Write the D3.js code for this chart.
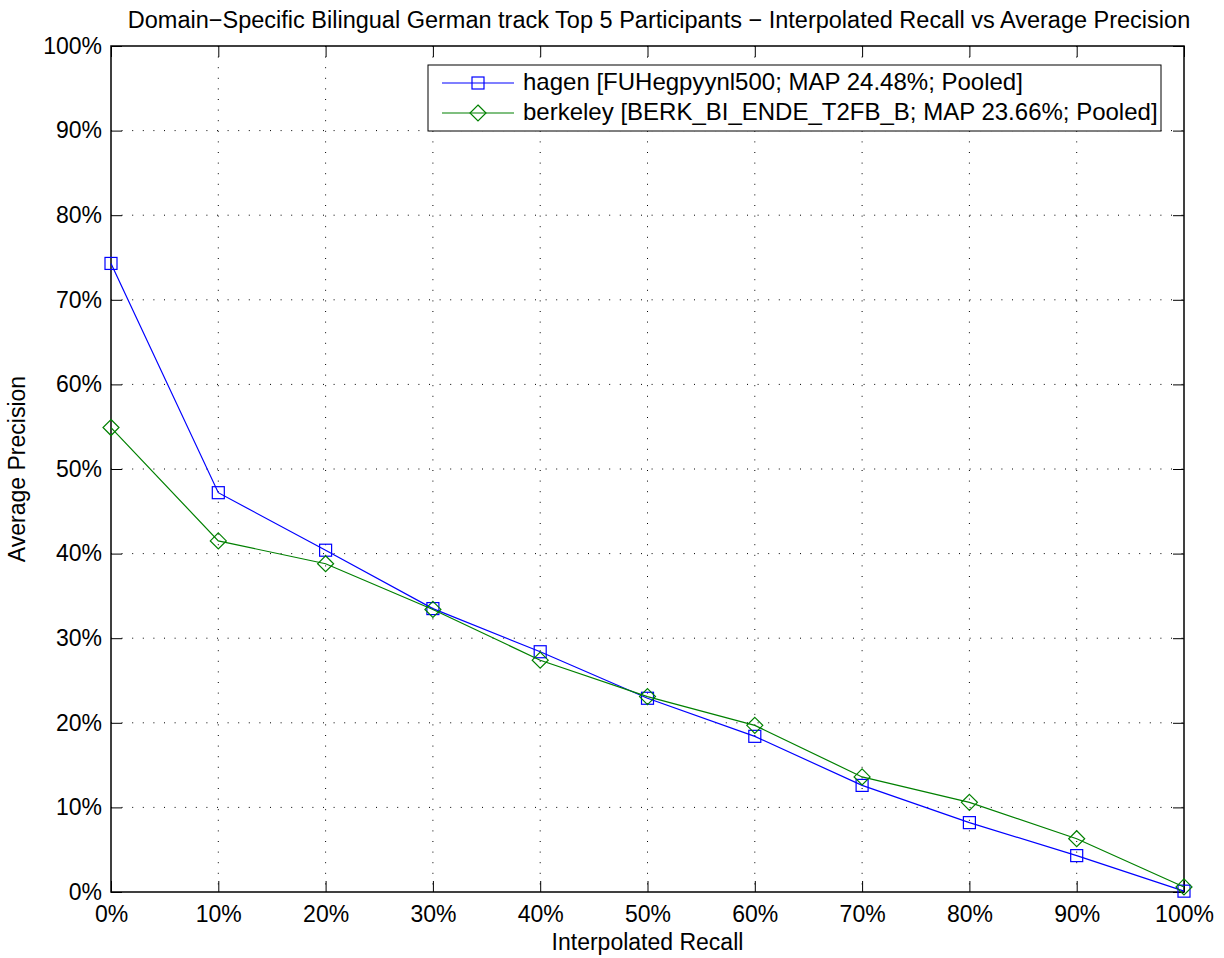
<!DOCTYPE html>
<html>
<head>
<meta charset="utf-8">
<script src="https://cdn.jsdelivr.net/npm/d3@7"></script>
<style>
  body { margin: 0; background: #fff; }
  svg text { font-family: "Liberation Sans", Arial, sans-serif; fill: #000; }
</style>
</head>
<body>
<div id="chart"></div>
<script>
var recall   = [0, 10, 20, 30, 40, 50, 60, 70, 80, 90, 100],
    hagen    = [74.3, 47.2, 40.4, 33.5, 28.4, 22.9, 18.4, 12.6, 8.2, 4.3, 0.1],
    berkeley = [54.9, 41.5, 38.8, 33.4, 27.4, 23.1, 19.7, 13.6, 10.6, 6.3, 0.6],
    yTicks   = [0, 10, 20, 30, 40, 50, 60, 70, 80, 90, 100],
    seriesNames = ['hagen [FUHegpyynl500; MAP 24.48%; Pooled]',
                   'berkeley [BERK_BI_ENDE_T2FB_B; MAP 23.66%; Pooled]'],
    title = 'Domain\u2212Specific Bilingual German track Top 5 Participants \u2212 Interpolated Recall vs Average Precision';

var width   = 1224,
    height  = 958,
    mLeft   = 111, mRight = 1184,
    mTop    = 46,  mBottom = 892,
    svg     = d3.select('#chart').append('svg')
                .attr('width', width)
                .attr('height', height);

var x = d3.scaleLinear().domain([0, 100]).range([mLeft, mRight]),
    y = d3.scaleLinear().domain([0, 100]).range([mBottom, mTop]);

var series = [
    { name: seriesNames[0], values: hagen,    color: '#0000ff', marker: 'square' },
    { name: seriesNames[1], values: berkeley, color: '#008000', marker: 'diamond' }
];

// grid
svg.append('g').selectAll('line')
    .data(recall.slice(1, -1))
    .enter().append('line')
    .attr('x1', function(d) { return x(d); }).attr('x2', function(d) { return x(d); })
    .attr('y1', mTop).attr('y2', mBottom)
    .attr('stroke', '#000').attr('stroke-width', 1)
    .attr('stroke-dasharray', '1,9.6');
svg.append('g').selectAll('line')
    .data(yTicks.slice(1, -1))
    .enter().append('line')
    .attr('y1', function(d) { return y(d); }).attr('y2', function(d) { return y(d); })
    .attr('x1', mLeft).attr('x2', mRight)
    .attr('stroke', '#000').attr('stroke-width', 1)
    .attr('stroke-dasharray', '1,9.6');

// axes (ticks pointing inward, mirrored on top and right)
var xAxis = d3.axisBottom(x).tickValues(recall).tickSize(-11).tickPadding(14)
        .tickFormat(function(d) { return d + '%'; }),
    yAxis = d3.axisLeft(y).tickValues(yTicks).tickSize(-11).tickPadding(9)
        .tickFormat(function(d) { return d + '%'; });

function styleAxis(g) {
    g.select('.domain').remove();
    g.selectAll('.tick line').attr('stroke', '#000').attr('stroke-width', 1);
    g.selectAll('.tick text').style('font-size', '23px');
}

svg.append('g').attr('transform', 'translate(0,' + mBottom + ')').call(xAxis).call(styleAxis);
svg.append('g').attr('transform', 'translate(' + mLeft + ',0)').call(yAxis).call(styleAxis);
svg.append('g').attr('transform', 'translate(0,' + mTop + ')')
    .call(d3.axisTop(x).tickValues(recall).tickSize(-11).tickFormat(''))
    .call(styleAxis);
svg.append('g').attr('transform', 'translate(' + mRight + ',0)')
    .call(d3.axisRight(y).tickValues(yTicks).tickSize(-11).tickFormat(''))
    .call(styleAxis);

svg.append('rect')
    .attr('x', mLeft).attr('y', mTop)
    .attr('width', mRight - mLeft).attr('height', mBottom - mTop)
    .attr('fill', 'none').attr('stroke', '#000').attr('stroke-width', 1.5);

// series
var line = d3.line()
    .x(function(d, i) { return x(recall[i]); })
    .y(function(d) { return y(d); });

function drawMarker(g, type, cx, cy, color) {
    if (type === 'square') {
        g.append('rect')
            .attr('x', cx - 6).attr('y', cy - 6)
            .attr('width', 12).attr('height', 12)
            .attr('fill', 'none').attr('stroke', color).attr('stroke-width', 1.2);
    } else {
        g.append('path')
            .attr('d', 'M' + cx + ',' + (cy - 8) + 'L' + (cx + 8) + ',' + cy +
                       'L' + cx + ',' + (cy + 8) + 'L' + (cx - 8) + ',' + cy + 'Z')
            .attr('fill', 'none').attr('stroke', color).attr('stroke-width', 1.2);
    }
}

series.forEach(function(s) {
    var g = svg.append('g');
    g.append('path')
        .attr('d', line(s.values))
        .attr('fill', 'none')
        .attr('stroke', s.color)
        .attr('stroke-width', 1.2);
    s.values.forEach(function(v, i) {
        drawMarker(g, s.marker, x(recall[i]), y(v), s.color);
    });
});

// legend
var legend = svg.append('g');
legend.append('rect')
    .attr('x', 428).attr('y', 65)
    .attr('width', 733).attr('height', 66)
    .attr('fill', '#fff').attr('stroke', '#000').attr('stroke-width', 1);
series.forEach(function(s, i) {
    var ly = 83 + i * 30;
    legend.append('line')
        .attr('x1', 442).attr('x2', 514)
        .attr('y1', ly).attr('y2', ly)
        .attr('stroke', s.color).attr('stroke-width', 1.2);
    drawMarker(legend, s.marker, 478, ly, s.color);
    legend.append('text')
        .attr('x', 523).attr('y', ly + 7)
        .style('font-size', '24px')
        .text(s.name);
});

// titles
svg.append('text')
    .attr('x', 659).attr('y', 28)
    .attr('text-anchor', 'middle')
    .style('font-size', '23.5px')
    .text(title);
svg.append('text')
    .attr('x', (mLeft + mRight) / 2).attr('y', 950)
    .attr('text-anchor', 'middle')
    .style('font-size', '23px')
    .text('Interpolated Recall');
svg.append('text')
    .attr('transform', 'translate(25,' + ((mTop + mBottom) / 2) + ') rotate(-90)')
    .attr('text-anchor', 'middle')
    .style('font-size', '23px')
    .text('Average Precision');
</script>
</body>
</html>
